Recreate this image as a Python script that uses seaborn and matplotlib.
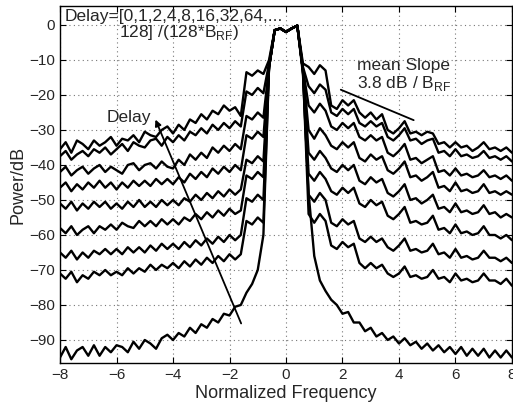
import seaborn as sns
import matplotlib.pyplot as plt
import pandas as pd
import numpy as np

# sampling grid of the spectra (normalized frequency)
freq = np.round(np.linspace(-8, 8, 81), 1)

# shared main lobe, f = -0.4 .. 0.4
lobe = [-1.5, -1.0, -2.0, -1.0, -0.2]

# left wing f = -8.0 .. -0.6, right wing f = 0.6 .. 8.0 (dB), one pair per delay
d128_left = [-35.5, -33.5, -36.5, -33, -34, -35.5, -33, -34.5, -33.5, -32, -34.5, -32.5, -33, -31.5,
             -33.5, -30.5, -31.5, -32, -30, -29, -31, -28.5, -30, -27, -28, -25.5, -27, -24.5,
             -25.5, -23, -24.5, -23.5, -26, -13.5, -14.5, -13, -14, -10]
d128_right = [-11, -12, -14, -11.5, -13, -23, -24, -21.5, -23, -21.5, -25, -26.5, -25, -27, -25.5,
              -30, -31, -29.5, -27.5, -31, -30.5, -31.5, -30.5, -31, -34, -33.5, -35, -33.5, -35,
              -34.5, -36, -35, -33.5, -35.5, -35, -36, -35, -36.5]

d64_left = [-37.5, -36, -38.5, -37, -36, -37.5, -35.5, -36.5, -35, -37, -35.5, -34, -36, -33.5,
            -34.5, -35, -33, -32.5, -34.5, -32, -33.5, -31.5, -33, -30.5, -31.5, -29.5, -31, -28.5,
            -30, -28, -29.5, -27.5, -29, -19, -20, -18, -19.5, -11]
d64_right = [-12, -17.5, -19.5, -17, -18.5, -25, -26, -24, -25.5, -24, -28, -29, -27.5, -29, -28,
             -32, -33, -31.5, -29.5, -33, -32.5, -34, -33, -32.5, -36.5, -36, -37.5, -35.5, -37.5,
             -37, -38, -37.5, -36, -38, -37.5, -38.5, -37.5, -39]

d32_left = [-42, -40.5, -43, -41.5, -40.5, -42.5, -41, -40, -42, -40.5, -41.5, -42.5, -40, -39.5,
            -41.5, -40, -39.5, -41, -39, -40.5, -41, -38.5, -40, -37, -38.5, -36.5, -38, -35,
            -36.5, -34.5, -36, -34, -35.5, -26, -27, -25, -26.5, -12]
d32_right = [-12.5, -23, -25, -22.5, -24.5, -29, -30, -28, -29.5, -28, -32, -33, -31.5, -33, -32,
             -36.5, -37.5, -36, -34, -38.5, -38, -39.5, -38.5, -37.5, -42, -41.5, -43, -41, -43,
             -42.5, -43.5, -43, -41.5, -43.5, -43, -44, -43, -44.5]

d16_left = [-46.5, -45, -47.5, -45.5, -47, -45, -46.5, -44.5, -46.5, -45, -47, -45, -46.5, -44.5,
            -46, -44.5, -46, -44, -45.5, -44, -45.5, -43.5, -45, -42.5, -44, -42, -43.5, -41,
            -42.5, -40.5, -42, -40, -41.5, -31.5, -32.5, -30.5, -32, -12]
d16_right = [-13, -30, -32.5, -29.5, -31.5, -34.5, -35.5, -33.5, -35, -33.5, -38, -39, -37, -38.5,
             -37.5, -41.5, -42.5, -41, -39, -43.5, -43, -44.5, -43.5, -42, -46.5, -46, -47.5, -45,
             -47.5, -47, -48, -47.5, -45.5, -48, -47.5, -48.5, -47.5, -48.5]

d8_left = [-51, -52.5, -50.5, -53, -51, -52.5, -50.5, -52, -50.5, -52.5, -51, -52.5, -50.5, -52,
           -50, -52, -50.5, -52, -50, -51.5, -50, -51.5, -49.5, -50.5, -48.5, -50, -48, -49.5,
           -47.5, -49, -47, -48.5, -47, -38.5, -39.5, -37.5, -39, -12]
d8_right = [-13, -36.5, -38.5, -36, -38, -41, -42, -40, -41.5, -40, -44.5, -45.5, -43.5, -45, -44,
            -48, -49, -47.5, -45.5, -50, -49.5, -51, -50, -48.5, -52.5, -52, -53.5, -51, -53.5,
            -53, -54, -53.5, -51.5, -54, -53.5, -55, -54, -55]

d4_left = [-58, -59.5, -57.5, -60, -58.5, -57.5, -59.5, -57.5, -58.5, -57, -58.5, -56.5, -57.5, -58,
           -56, -57.5, -56, -57.5, -55.5, -57, -55.5, -57, -55, -56, -54, -55.5, -53.5, -55,
           -53, -54.5, -52.5, -54, -53, -43, -44, -42, -43.5, -12]
d4_right = [-13, -42.5, -44.5, -42, -44, -47.5, -48.5, -46.5, -48, -46.5, -51, -52, -50, -51.5,
            -50.5, -54.5, -55.5, -54, -52, -56.5, -56, -57, -56.5, -54.5, -58.5, -58, -59.5, -57,
            -59.5, -59, -60, -59.5, -57.5, -60, -60, -61, -60, -61.5]

d2_left = [-65, -66.5, -64.5, -67, -65, -66.5, -64.5, -65.5, -64, -65.5, -64, -65.5, -63.5, -65,
           -63.5, -65, -63, -64.5, -62.5, -64, -62.5, -64, -62, -63.5, -61.5, -63, -61, -62.5,
           -60.5, -62, -60, -61.5, -60, -49.5, -50.5, -48.5, -50, -12]
d2_right = [-13, -48.5, -50.5, -48, -50, -56.5, -57.5, -55.5, -57, -56, -61, -62, -60.5, -62, -61,
            -63.5, -64.5, -63, -61, -64.5, -64, -65, -64.5, -62.5, -65.5, -65, -66.5, -64, -66.5,
            -66, -67, -66.5, -64.5, -66.5, -66.5, -67.5, -66.5, -68]

d1_left = [-71, -72.5, -70.5, -73.5, -71.5, -72.5, -70.5, -71.5, -70, -71.5, -70.5, -71.5, -69.5,
           -71, -69.5, -70.5, -68.5, -70, -68.5, -69.5, -68, -69.5, -67.5, -69, -67, -68.5, -66.5,
           -68, -66, -67.5, -65.5, -67, -65.5, -56, -57, -55, -56.5, -12]
d1_right = [-13, -54, -56.5, -54, -56, -63, -64, -62, -63.5, -62.5, -68, -69.5, -68, -69.5, -68.5,
            -71, -72, -71, -69, -72, -71.5, -72.5, -72, -70, -72.5, -72, -73.5, -71, -73, -72.5,
            -73.5, -73, -71, -73, -73, -74, -72.5, -74.5]

d0_left = [-95, -92, -95.5, -93, -92, -94.5, -91.5, -94.5, -92, -93.5, -91.5, -92, -93.5, -90.5,
           -92.5, -90, -91, -92.5, -89.5, -88.5, -90, -88, -89, -86.5, -88, -85.5, -86.5, -84, -85,
           -82.5, -83, -80.5, -80, -76.5, -74, -70, -60, -12]
d0_right = [-14, -48, -66, -73, -76, -78.5, -80, -82.5, -82, -85, -85, -87.5, -86.5, -89, -88, -90,
            -89, -91, -89.5, -91.5, -90.5, -92.5, -91, -93, -91.5, -93.5, -92, -94, -92, -94.5,
            -92.5, -94.5, -92.5, -95, -93, -95, -93, -95]

delays = [0, 1, 2, 4, 8, 16, 32, 64, 128]
wings = {
    0: (d0_left, d0_right), 1: (d1_left, d1_right), 2: (d2_left, d2_right),
    4: (d4_left, d4_right), 8: (d8_left, d8_right), 16: (d16_left, d16_right),
    32: (d32_left, d32_right), 64: (d64_left, d64_right), 128: (d128_left, d128_right),
}

frames = []
for d in delays:
    left, right = wings[d]
    frames.append(pd.DataFrame({"freq": freq, "power": left + lobe + right, "delay": d}))
df = pd.concat(frames, ignore_index=True)

sns.set_style("ticks")
plt.rcParams["font.family"] = ["Liberation Sans", "DejaVu Sans"]
plt.rcParams["mathtext.fontset"] = "custom"
plt.rcParams["mathtext.rm"] = "Liberation Sans"

fig = plt.figure(figsize=(5.13, 4.03), dpi=100)
ax = fig.add_axes([0.117, 0.099, 0.881, 0.886])

sns.lineplot(data=df, x="freq", y="power", units="delay", estimator=None,
             color="black", lw=1.7, ax=ax, legend=False)

ax.set_xlim(-8, 8)
ax.set_ylim(-96.6, 5.4)
ax.set_xticks(range(-8, 9, 2))
ax.set_yticks(range(-90, 1, 10))
ax.grid(True, color="#777777", linestyle=(0, (1, 3)), linewidth=0.8)
ax.tick_params(direction="in", top=True, right=True, length=4, labelsize=11, color="black")
for s in ax.spines.values():
    s.set_color("black")
    s.set_linewidth(1.0)
ax.set_xlabel("Normalized Frequency", fontsize=13, labelpad=2)
ax.set_ylabel("Power/dB", fontsize=13, labelpad=2)

ax.text(-7.84, 2.5, "Delay=[0,1,2,4,8,16,32,64,...", fontsize=12.5, va="center", ha="left")
ax.text(-5.9, -2.3, r"128] /(128*B$_\mathregular{RF}$)", fontsize=12.5, va="center", ha="left")

ax.text(2.51, -11.5, "mean Slope", fontsize=12.5, va="center", ha="left")
ax.text(2.51, -16.6, r"3.8 dB / B$_\mathregular{RF}$", fontsize=12.5, va="center", ha="left")
ax.plot([1.94, 4.52], [-18.5, -27.2], color="black", lw=1.3)

ax.text(-4.77, -26.3, "Delay", fontsize=12.5, va="center", ha="right")
ax.annotate("", xy=(-4.66, -26.3), xytext=(-1.55, -86),
            arrowprops=dict(arrowstyle="-|>", color="black", lw=1.3, mutation_scale=9))

fig.savefig("out.png", dpi=100)
